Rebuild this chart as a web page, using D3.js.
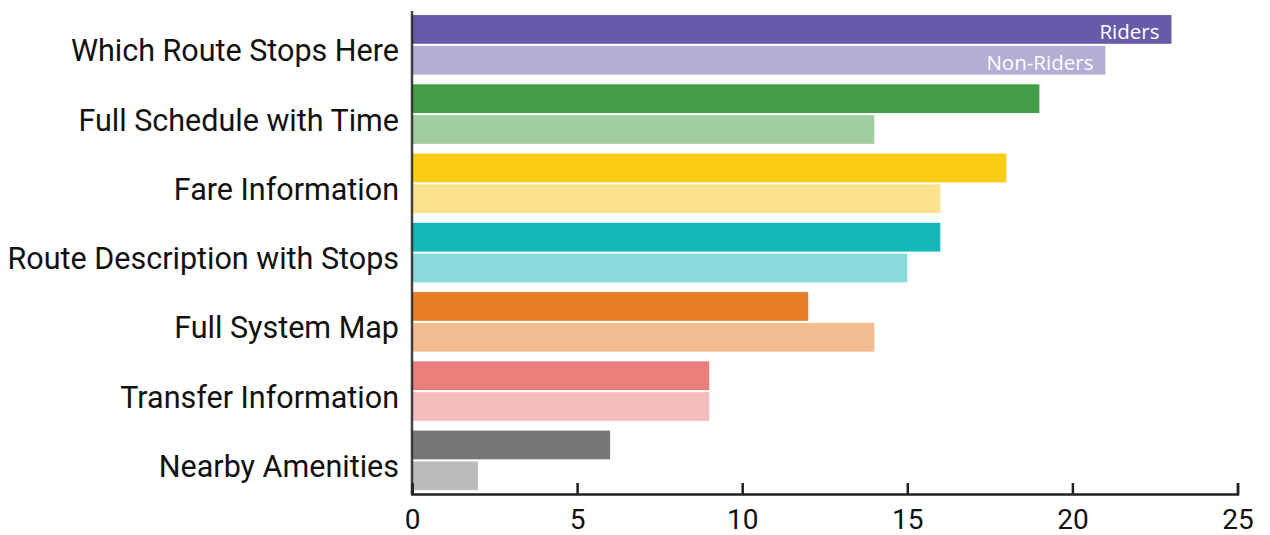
<!DOCTYPE html>
<html>
<head>
<meta charset="utf-8">
<script src="https://cdn.jsdelivr.net/npm/d3@7"></script>
<style>
  html, body { margin: 0; padding: 0; background: #fff; }
  svg { display: block; }
</style>
</head>
<body>
<svg id="chart" width="1270" height="535"></svg>
<script>
// Information types, top to bottom
const categories = [
  "Which Route Stops Here",
  "Full Schedule with Time",
  "Fare Information",
  "Route Description with Stops",
  "Full System Map",
  "Transfer Information",
  "Nearby Amenities"
];
const seriesNames = ["Riders", "Non-Riders"];
const ridersValues = [23, 19, 18, 16, 12, 9, 6];
const nonRidersValues = [21, 14, 16, 15, 14, 9, 2];
const xTicks = [0, 5, 10, 15, 20, 25];

// One hue per category: strong for riders, pale for non-riders
const riderColors = ["#665ba8", "#439e47", "#f9cd14", "#14b8b8", "#e97f24", "#e97e7c", "#767779"];
const nonRiderColors = ["#b2aed4", "#a0cda2", "#fbe38b", "#8adcdc", "#f4bd91", "#f4bebe", "#bbbcbe"];

const svg = d3.select("#chart");

const x = d3.scaleLinear().domain([0, 25]).range([412, 1237.5]);
const y = d3.scaleBand().domain(categories)
  .range([10.2, 495]).paddingInner(0.14).paddingOuter(0.07);
const ySub = d3.scaleBand().domain(seriesNames)
  .range([0, y.bandwidth()]).paddingInner(0.067);

const rows = categories.map((c, i) => ({
  category: c,
  bars: [
    { series: "Riders", value: ridersValues[i], color: riderColors[i] },
    { series: "Non-Riders", value: nonRidersValues[i], color: nonRiderColors[i] }
  ]
}));

const groups = svg.append("g").selectAll("g")
  .data(rows).join("g")
  .attr("transform", d => `translate(0,${y(d.category)})`);

groups.selectAll("rect")
  .data(d => d.bars).join("rect")
  .attr("x", x(0))
  .attr("y", d => ySub(d.series))
  .attr("width", d => x(d.value) - x(0))
  .attr("height", ySub.bandwidth())
  .attr("fill", d => d.color);

// Series names written inside the first group's bars
svg.append("g").selectAll("text")
  .data(rows[0].bars).join("text")
  .attr("x", d => x(d.value) - 12)
  .attr("y", d => y(categories[0]) + ySub(d.series) + ySub.bandwidth() / 2 + 10)
  .attr("text-anchor", "end")
  .attr("fill", "#fff")
  .style("font-family", "'Open Sans', sans-serif")
  .style("font-size", "20.5px")
  .text(d => d.series);

// Category labels
svg.append("g").selectAll("text")
  .data(categories).join("text")
  .attr("x", 399)
  .attr("y", d => y(d) + y.bandwidth() / 2 + 16.6)
  .attr("text-anchor", "end")
  .attr("fill", "#111")
  .style("font-family", "Roboto, sans-serif")
  .style("font-size", "30.5px")
  .text(d => d);

// Value axis along the bottom, ticks pointing up
const xAxis = d3.axisBottom(x).tickValues(xTicks).tickSize(-11).tickPadding(15).tickFormat(d3.format("d"));
const gx = svg.append("g").attr("transform", "translate(0,494)").call(xAxis);
gx.select(".domain").attr("stroke", "#222").attr("stroke-width", 2.5);
gx.selectAll(".tick line").attr("stroke", "#222").attr("stroke-width", 2.5);
gx.selectAll(".tick text")
  .attr("fill", "#111")
  .style("font-family", "Roboto, sans-serif")
  .style("font-size", "28px");

// Category axis line
svg.append("line")
  .attr("x1", x(0)).attr("x2", x(0))
  .attr("y1", 11).attr("y2", 495)
  .attr("stroke", "#222").attr("stroke-opacity", 0.85).attr("stroke-width", 2.5);
</script>
</body>
</html>
